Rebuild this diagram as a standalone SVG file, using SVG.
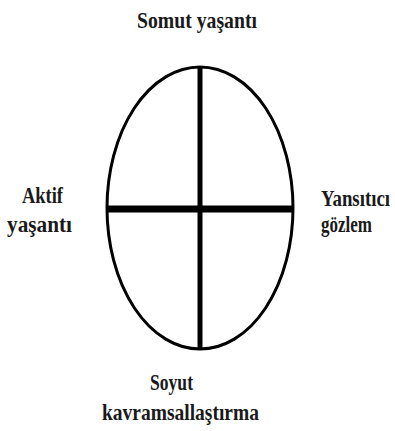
<svg xmlns="http://www.w3.org/2000/svg" width="395" height="431" viewBox="0 0 395 431">
<style>
text{font-family:"Liberation Serif","Times New Roman",serif;font-weight:bold;font-size:18px;fill:#1a1a1a}
</style>
<rect width="395" height="431" fill="#fff"/>
<g id="connectors" stroke="#000" fill="none">
<ellipse cx="200" cy="208" rx="93" ry="141" stroke-width="3"/>
<line x1="200" y1="67" x2="200" y2="349" stroke-width="5"/>
<line x1="108" y1="209" x2="292" y2="209" stroke-width="7"/>
</g>
<g id="top"><text transform="translate(137,28) scale(1,1.3)" textLength="120" lengthAdjust="spacingAndGlyphs">Somut yaşantı</text></g>
<g id="left"><text transform="translate(22,203) scale(1,1.3)" textLength="41" lengthAdjust="spacingAndGlyphs">Aktif</text><text transform="translate(7,232) scale(1,1.3)" textLength="65" lengthAdjust="spacingAndGlyphs">yaşantı</text></g>
<g id="right"><text transform="translate(321,206) scale(1,1.3)" textLength="69" lengthAdjust="spacingAndGlyphs">Yansıtıcı</text><text transform="translate(321,232) scale(1,1.3)" textLength="51" lengthAdjust="spacingAndGlyphs">gözlem</text></g>
<g id="bottom"><text transform="translate(150,390) scale(1,1.3)" textLength="43" lengthAdjust="spacingAndGlyphs">Soyut</text><text transform="translate(102,420) scale(1,1.3)" textLength="157" lengthAdjust="spacingAndGlyphs">kavramsallaştırma</text></g>
</svg>
